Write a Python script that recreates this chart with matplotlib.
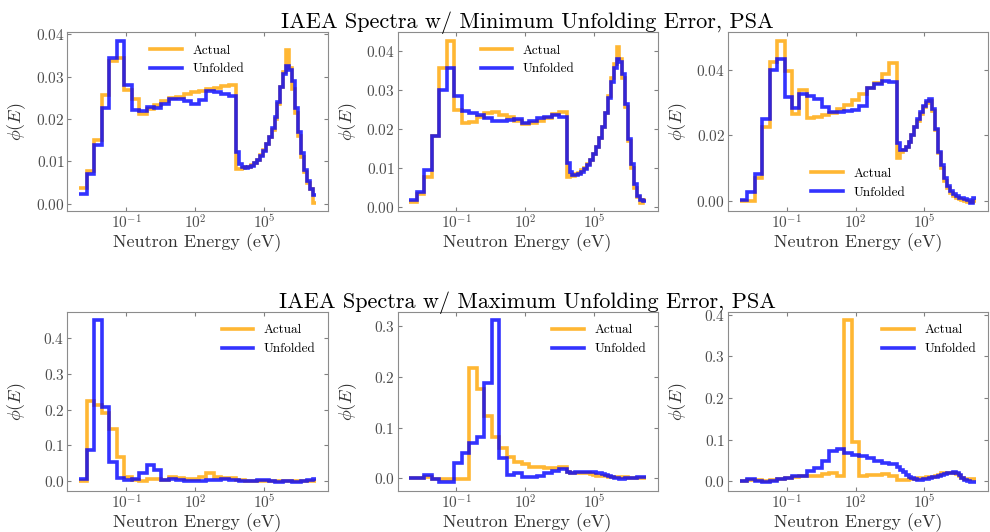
import numpy as np
import matplotlib
matplotlib.use("Agg")
import matplotlib.pyplot as plt
from matplotlib.ticker import NullLocator

plt.rcParams["font.family"] = "serif"
plt.rcParams["font.serif"] = ["cmr10"]
plt.rcParams["mathtext.fontset"] = "cm"
plt.rcParams["axes.formatter.use_mathtext"] = True
plt.rcParams["axes.unicode_minus"] = False

# energy group edges (eV)
energy_edges = [
    8.91e-4, 1.89e-3, 4.00e-3, 8.47e-3, 1.79e-2, 3.80e-2, 8.05e-2, 0.171, 0.361,
    0.766, 1.62, 3.44, 7.28, 15.4, 32.7, 69.2, 147, 310, 658, 1390, 2950, 6250,
    8390, 11270, 15140, 20330, 27300, 36670, 49250, 66140, 88830, 1.193e5,
    1.602e5, 2.152e5, 2.890e5, 3.881e5, 5.212e5, 7.0e5, 9.4e5, 1.262e6, 1.695e6,
    2.277e6, 3.058e6, 4.107e6, 5.515e6, 7.407e6, 9.947e6, 1.336e7, 1.794e7,
]

# minimum unfolding error spectra
min1_actual = [
    0.0038, 0.0078, 0.0150, 0.0256, 0.0336, 0.0344, 0.0269, 0.0248, 0.0212, 0.0224, 0.0232,
    0.0242, 0.0250, 0.0253, 0.0259, 0.0263, 0.0267, 0.0270, 0.0274, 0.0277, 0.0280,
    0.0081, 0.0083, 0.0085, 0.0086, 0.0088, 0.0092, 0.0097, 0.0104, 0.0114, 0.0127, 0.0140,
    0.0157, 0.0175, 0.0200, 0.0235, 0.0275, 0.0310, 0.0362, 0.0320, 0.0270, 0.0215, 0.0160,
    0.0110, 0.0075, 0.0050, 0.0035, 0.0003,
]
min1_unfolded = [
    0.0024, 0.0071, 0.0138, 0.0227, 0.0345, 0.0385, 0.0280, 0.0222, 0.0218, 0.0228, 0.0226,
    0.0236, 0.0247, 0.0247, 0.0242, 0.0236, 0.0245, 0.0267, 0.0264, 0.0260, 0.0255,
    0.0123, 0.0095, 0.0086, 0.0084, 0.0087, 0.0090, 0.0096, 0.0104, 0.0112, 0.0125, 0.0140,
    0.0158, 0.0178, 0.0205, 0.0240, 0.0275, 0.0305, 0.0325, 0.0315, 0.0290, 0.0225, 0.0170,
    0.0120, 0.0080, 0.0055, 0.0035, 0.0021,
]
min2_actual = [
    0.0014, 0.0034, 0.0078, 0.0182, 0.0355, 0.0426, 0.0249, 0.0216, 0.0219, 0.0231, 0.0240,
    0.0243, 0.0236, 0.0231, 0.0221, 0.0214, 0.0216, 0.0221, 0.0227, 0.0238, 0.0244,
    0.0078, 0.0082, 0.0080, 0.0084, 0.0088, 0.0094, 0.0101, 0.0110, 0.0122, 0.0137, 0.0155,
    0.0178, 0.0205, 0.0240, 0.0285, 0.0330, 0.0365, 0.0410, 0.0380, 0.0330, 0.0255, 0.0170,
    0.0100, 0.0050, 0.0025, 0.0012, 0.0018,
]
min2_unfolded = [
    0.0019, 0.0040, 0.0094, 0.0182, 0.0300, 0.0355, 0.0285, 0.0246, 0.0240, 0.0236, 0.0227,
    0.0221, 0.0221, 0.0223, 0.0225, 0.0216, 0.0221, 0.0227, 0.0231, 0.0236, 0.0231,
    0.0112, 0.0091, 0.0082, 0.0082, 0.0085, 0.0090, 0.0098, 0.0108, 0.0120, 0.0135, 0.0155,
    0.0178, 0.0205, 0.0240, 0.0280, 0.0320, 0.0355, 0.0378, 0.0370, 0.0340, 0.0265, 0.0175,
    0.0110, 0.0060, 0.0030, 0.0018, 0.0016,
]
min3_actual = [
    0.0000, 0.0000, 0.0071, 0.0226, 0.0425, 0.0489, 0.0395, 0.0265, 0.0338, 0.0254, 0.0256,
    0.0262, 0.0268, 0.0280, 0.0293, 0.0307, 0.0326, 0.0344, 0.0361, 0.0387, 0.0420,
    0.0132, 0.0148, 0.0155, 0.0165, 0.0180, 0.0200, 0.0225, 0.0245, 0.0265, 0.0285, 0.0300,
    0.0305, 0.0275, 0.0215, 0.0145, 0.0100, 0.0062, 0.0040, 0.0025, 0.0015, 0.0010, 0.0005,
    0.0003, 0.0000, -0.0002, -0.0004, 0.0000,
]
min3_unfolded = [
    0.0002, 0.0027, 0.0081, 0.0249, 0.0400, 0.0433, 0.0316, 0.0283, 0.0326, 0.0319, 0.0312,
    0.0285, 0.0272, 0.0272, 0.0273, 0.0277, 0.0290, 0.0344, 0.0356, 0.0366, 0.0363,
    0.0178, 0.0155, 0.0155, 0.0165, 0.0180, 0.0200, 0.0225, 0.0250, 0.0270, 0.0290, 0.0305,
    0.0310, 0.0280, 0.0220, 0.0150, 0.0110, 0.0070, 0.0045, 0.0030, 0.0020, 0.0015, 0.0010,
    0.0008, 0.0005, 0.0002, -0.0005, 0.0010,
]

# maximum unfolding error spectra
max1_actual = [
    0.000, 0.223, 0.214, 0.191, 0.147, 0.068, 0.012, 0.005, 0.002, 0.0074, 0.0074,
    0.005, 0.012, 0.009, 0.007, 0.007, 0.011, 0.023, 0.011, 0.009, 0.009,
    0.003, 0.003, 0.003, 0.002, 0.002, 0.002, 0.002, 0.001, 0.001, 0.001, 0.001,
    0.001, 0.001, 0.001, 0.001, 0.001, 0.001, 0.001, 0.001, 0.000, 0.000, 0.000,
    0.001, 0.001, 0.001, 0.001, 0.000,
]
max1_unfolded = [
    0.0065, 0.0865, 0.449, 0.207, 0.053, 0.0093, 0.0047, 0.0074, 0.023, 0.0465, 0.0326,
    0.0047, 0.0074, 0.005, 0.002, 0.002, 0.002, 0.005, 0.005, 0.0065, 0.005,
    0.003, 0.002, 0.001, 0.000, 0.000, 0.001, 0.002, 0.003, 0.004, 0.004, 0.003,
    0.002, 0.000, -0.002, -0.003, -0.002, 0.000, 0.001, 0.000, -0.002, -0.003, -0.001,
    0.001, 0.002, 0.003, 0.005, 0.007,
]
max2_actual = [
    0.000, 0.000, 0.003, -0.001, -0.001, -0.001, -0.001, -0.001, 0.217, 0.177, 0.123,
    0.082, 0.059, 0.043, 0.033, 0.028, 0.023, 0.0217, 0.021, 0.021, 0.023,
    0.012, 0.011, 0.010, 0.010, 0.010, 0.011, 0.011, 0.010, 0.008, 0.006, 0.005,
    0.005, 0.005, 0.004, 0.003, 0.003, 0.003, 0.003, 0.003, 0.002, 0.002, 0.001,
    0.000, 0.000, 0.001, 0.001, 0.001,
]
max2_unfolded = [
    0.000, 0.000, 0.0066, -0.002, -0.008, -0.0066, 0.031, 0.0505, 0.069, 0.082, 0.188,
    0.312, 0.041, 0.0066, 0.011, 0.002, 0.002, 0.005, 0.011, 0.015, 0.019,
    0.012, 0.011, 0.011, 0.012, 0.012, 0.013, 0.013, 0.013, 0.012, 0.012, 0.011,
    0.010, 0.008, 0.006, 0.004, 0.002, 0.001, 0.000, -0.001, -0.001, 0.000, 0.000,
    0.001, 0.001, 0.002, 0.002, 0.002,
]
max3_actual = [
    0.0016, 0.004, 0.004, 0.0016, 0.004, 0.0064, 0.008, 0.0096, 0.012, 0.012, 0.014,
    0.0175, 0.020, 0.012, 0.386, 0.094, 0.0135, 0.016, 0.016, 0.0175, 0.012,
    0.004, 0.004, 0.004, 0.004, 0.005, 0.005, 0.006, 0.007, 0.008, 0.009, 0.010,
    0.010, 0.011, 0.012, 0.015, 0.019, 0.021, 0.020, 0.021, 0.021, 0.018, 0.013,
    0.008, 0.005, 0.005, 0.006, 0.006,
]
max3_unfolded = [
    0.0016, 0.0064, 0.0016, -0.0024, 0.000, 0.0056, 0.008, 0.012, 0.012, 0.026, 0.032,
    0.048, 0.074, 0.077, 0.068, 0.064, 0.060, 0.056, 0.048, 0.044, 0.041,
    0.035, 0.028, 0.022, 0.016, 0.011, 0.007, 0.005, 0.004, 0.004, 0.005, 0.006,
    0.008, 0.010, 0.011, 0.013, 0.015, 0.017, 0.019, 0.021, 0.022, 0.020, 0.015,
    0.009, 0.004, 0.001, -0.001, -0.001,
]

panels = [
    (min1_actual, min1_unfolded, "upper center"),
    (min2_actual, min2_unfolded, "upper center"),
    (min3_actual, min3_unfolded, "lower center"),
    (max1_actual, max1_unfolded, "upper right"),
    (max2_actual, max2_unfolded, "upper right"),
    (max3_actual, max3_unfolded, "upper right"),
]

fig, axes = plt.subplots(2, 3, figsize=(9.9, 5.32), dpi=100)
fig.subplots_adjust(left=0.068, right=0.998, bottom=0.078, top=0.939,
                    wspace=0.269, hspace=0.57)

for ax, (actual, unfolded, loc) in zip(axes.flat, panels):
    ax.stairs(actual, energy_edges, baseline=None, color="orange", lw=2.6,
              alpha=0.8, label="Actual")
    ax.stairs(unfolded, energy_edges, baseline=None, color="blue", lw=2.6,
              alpha=0.8, label="Unfolded")
    ax.set_xscale("log")
    ax.set_xticks([1e-1, 1e2, 1e5])
    ax.xaxis.set_minor_locator(NullLocator())
    ax.margins(x=0.05)
    ax.set_xlabel("Neutron Energy (eV)", fontsize=13, color="0.2", labelpad=1)
    ax.set_ylabel(r"$\phi(E)$", fontsize=13, color="0.2")
    ax.yaxis.set_label_coords(-0.15, 0.5)
    ax.tick_params(direction="in", top=True, right=True, labelsize=11,
                   labelcolor="0.3", color="0.5", length=3, pad=2)
    for spine in ax.spines.values():
        spine.set_color("0.55")
    ax.legend(loc=loc, frameon=False, fontsize=9.5, handlelength=2.4)

axes[0, 1].set_title("IAEA Spectra w/ Minimum Unfolding Error, PSA", fontsize=16, pad=3)
axes[1, 1].set_title("IAEA Spectra w/ Maximum Unfolding Error, PSA", fontsize=16, pad=3)

fig.savefig("out.png", dpi=100)
